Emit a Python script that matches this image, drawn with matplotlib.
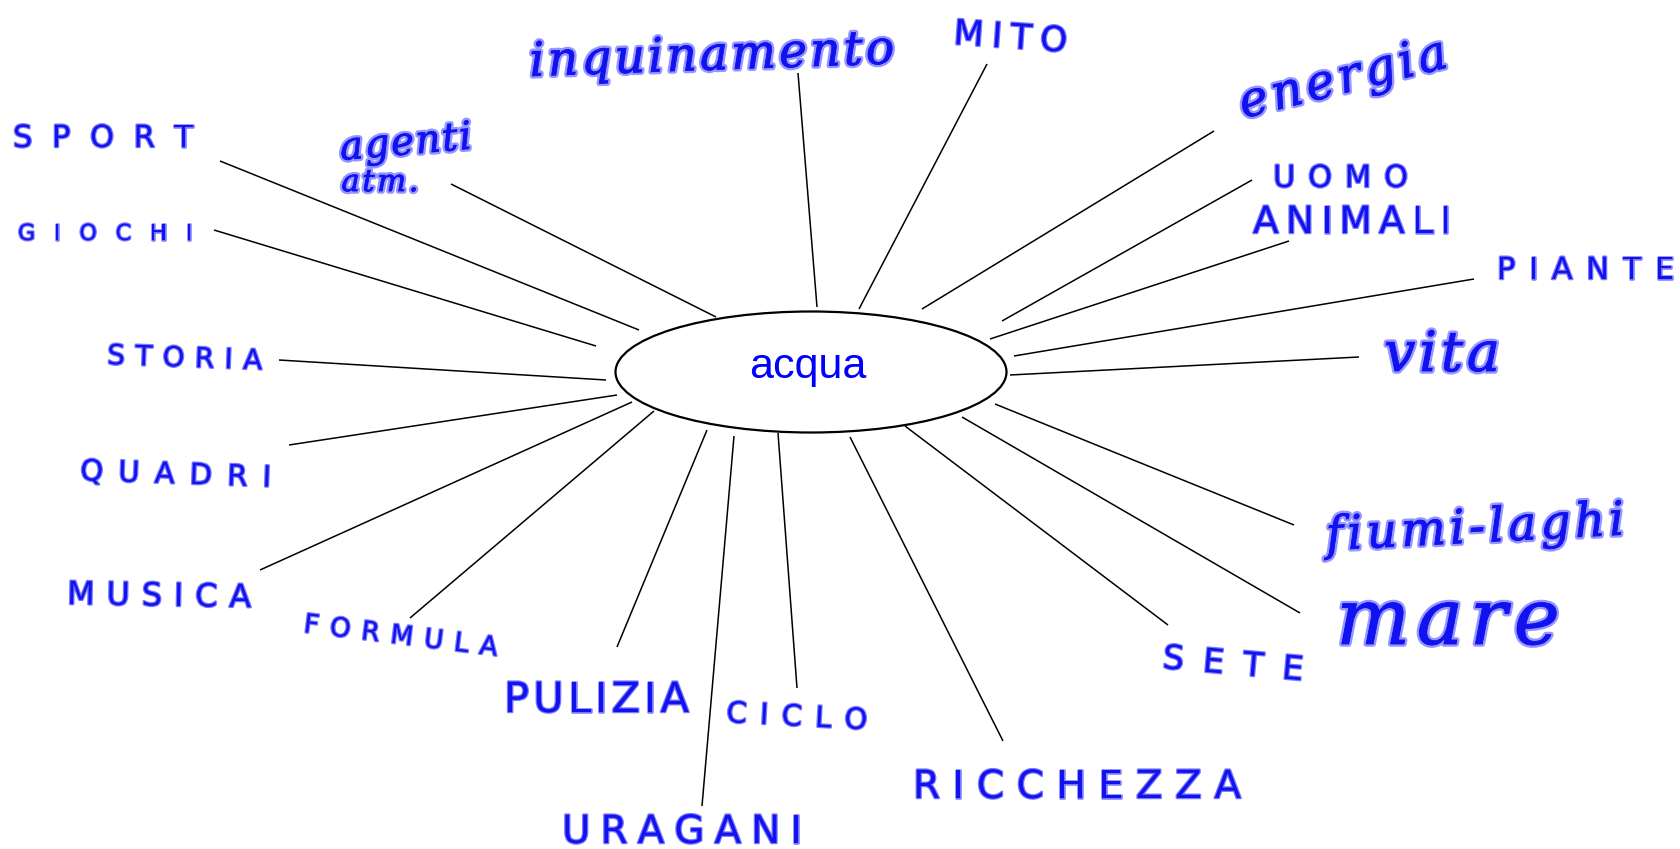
import matplotlib
matplotlib.use("Agg")
import matplotlib.pyplot as plt
import matplotlib.patheffects as pe
from matplotlib.patches import Ellipse
import numpy as np

# centre word
centre_word = "acqua"

# block capital words: left x, baseline y, width, letter size, slope
caps_words = ["SPORT", "GIOCHI", "STORIA", "QUADRI", "MUSICA", "FORMULA", "PULIZIA",
              "URAGANI", "CICLO", "RICCHEZZA", "SETE", "UOMO", "ANIMALI", "PIANTE", "MITO"]
caps_left = [13, 18, 107, 80, 67, 303, 504, 562, 726, 913, 1162, 1273, 1253, 1497, 953]
caps_base = [147, 240, 364, 480, 604, 632, 712, 843, 722, 798, 668, 187, 233, 279, 44]
caps_width = [180, 174, 155, 191, 184, 195, 185, 240, 141, 328, 141, 135, 198, 177, 114]
caps_size = [22, 16, 20, 21, 23, 19, 30, 28, 21, 28, 24, 22, 27, 22, 25]
caps_angle = [0, 0, -2, -2, -1, -7, 0, 0, -3, 0, -5, 0, 0, 0, -4]

# cursive words
cursive_words = ["inquinamento", "agenti", "atm.", "energia", "vita", "fiumi-laghi", "mare"]
cursive_left = [530, 341, 333, 1232, 1384, 1310, 1308]
cursive_base = [76, 160, 191, 121, 371, 551, 644]
cursive_width = [365, 132, 94, 236, 116, 332, 280]
cursive_size = [34, 28, 22, 35, 40, 34, 56]
cursive_angle = [2, 5, 0, 14, 0, 3, 0]

# branch lines: outer end -> ellipse end
branch_from = [(220, 161), (214, 230), (451, 184), (798, 73), (987, 64), (1214, 131),
               (1252, 180), (1289, 241), (1474, 279), (1359, 357), (279, 360), (289, 445),
               (260, 570), (410, 618), (617, 647), (702, 806), (797, 688), (1003, 741),
               (1168, 625), (1300, 613), (1294, 525)]
branch_to = [(639, 330), (596, 346), (716, 317), (817, 307), (859, 309), (922, 309),
             (1002, 321), (990, 339), (1014, 356), (1010, 375), (606, 380), (617, 395),
             (632, 402), (654, 411), (707, 430), (734, 436), (778, 433), (850, 437),
             (905, 426), (962, 417), (995, 404)]

ink = "#1212ee"
caps_fx = [pe.Stroke(linewidth=1.8, foreground="#7a7aff"), pe.Normal()]
cursive_fx = [pe.Stroke(linewidth=4, foreground="#9696ff"), pe.Stroke(linewidth=0.6, foreground=ink), pe.Normal()]

fig = plt.figure(figsize=(16.8, 8.49), dpi=100)
ax = fig.add_axes([0, 0, 1, 1])
ax.set_xlim(0, 1680)
ax.set_ylim(849, 0)
ax.axis("off")

for (x0, y0), (x1, y1) in zip(branch_from, branch_to):
    ax.plot([x0, x1], [y0, y1], color="black", lw=1.1, solid_capstyle="butt")

ax.add_patch(Ellipse((811, 372), 391, 121, facecolor="white", edgecolor="black", lw=1.6, zorder=3))
ax.text(808, 378, centre_word, color="#0000ff", fontsize=31, family="Liberation Sans",
        ha="center", va="baseline", zorder=4)

fig.canvas.draw()
r = fig.canvas.get_renderer()


def spread(word, x0, y0, width, size, angle, fx, max_gap=None, **kw):
    # letters written one by one, spaced out to fill the word's width
    t = np.radians(angle)
    texts = [ax.text(0, 0, ch, color=ink, fontsize=size, ha="left", va="baseline",
                     rotation_mode="anchor", path_effects=fx, **kw) for ch in word]
    ws = [tx.get_window_extent(r).width for tx in texts]
    gap = (width - sum(ws)) / max(len(word) - 1, 1)
    if max_gap is not None and gap > max_gap:
        gap = max_gap
    used = sum(ws) + gap * (len(word) - 1)
    d = (width - used) / 2
    for tx, w in zip(texts, ws):
        tx.set_position((x0 + d * np.cos(t), y0 - d * np.sin(t)))
        tx.set_rotation(angle)
        d += w + gap


for i, word in enumerate(caps_words):
    spread(word, caps_left[i], caps_base[i], caps_width[i], caps_size[i], caps_angle[i],
           caps_fx, family="DejaVu Sans")

for i, word in enumerate(cursive_words):
    spread(word, cursive_left[i], cursive_base[i], cursive_width[i], cursive_size[i],
           cursive_angle[i], cursive_fx, max_gap=0.12 * cursive_size[i],
           family="DejaVu Serif", style="italic")

fig.savefig("out.png", dpi=100, facecolor="white")
